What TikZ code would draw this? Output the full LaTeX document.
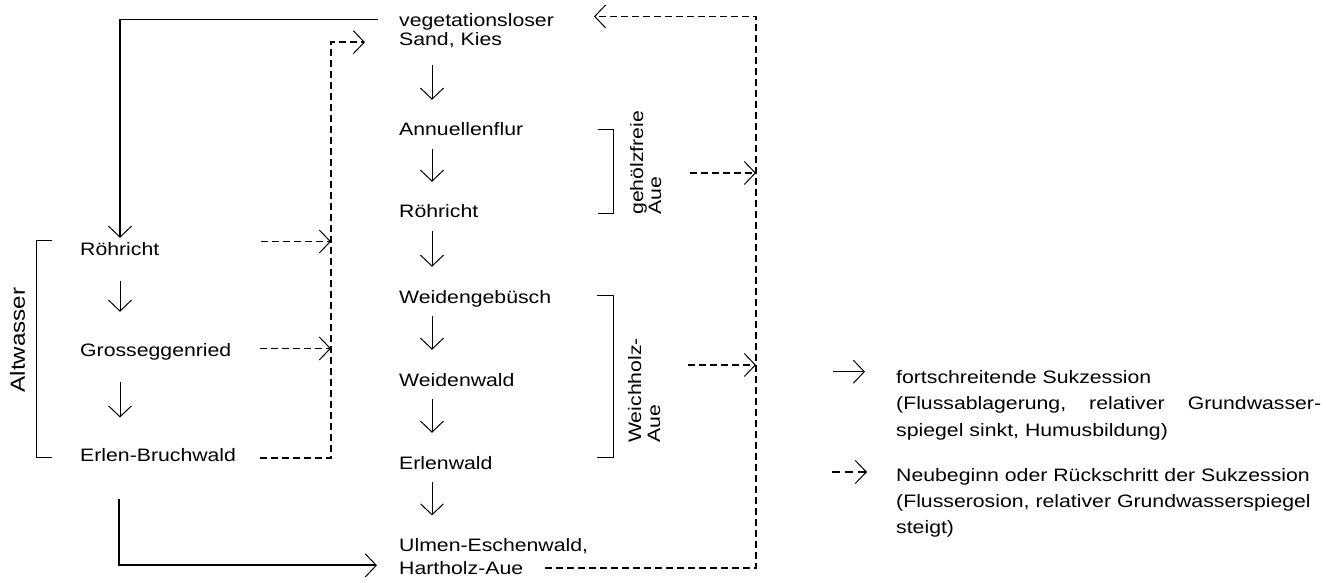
\documentclass[tikz,border=0pt]{standalone}
\usepackage{fontspec}
\setmainfont{Liberation Sans}[FakeStretch=1.18]
\usetikzlibrary{arrows.meta,calc}
\begin{document}
\begin{tikzpicture}[x=1pt,y=-1pt,
  lbl/.style={inner sep=0pt,font=\fontsize{18}{22}\selectfont},
  one/.style={lbl,anchor=base west,text height=13pt,text depth=4pt},
  multi/.style={lbl,anchor=base west,align=left,text width=#1},
  barb/.style={-{Straight Barb[length=11pt,width=23pt,line width=1pt]}},
  succ/.style={line width=1pt,barb},
  flow/.style={line width=1.8pt,barb},
  backarrow/.style={line width=1.8pt,dash pattern=on 7pt off 4pt,barb},
  bracket/.style={line width=1pt},
]
\useasboundingbox (0,0) rectangle (1326,583);
\fill[white] (0,0) rectangle (1326,583);

% middle column
\node[multi=200pt,font=\fontsize{18}{19}\selectfont] (veg) at (399,26.7) {vegetationsloser\\Sand, Kies};
\node[one] (ann) at (399,136) {Annuellenflur};
\node[one] (roeM) at (399,218) {Röhricht};
\node[one] (weg) at (399,303) {Weidengebüsch};
\node[one] (wew) at (399,386) {Weidenwald};
\node[one] (erl) at (399,469) {Erlenwald};
\node[multi=200pt,font=\fontsize{18}{22.3}\selectfont] (ulm) at (399,551.7) {Ulmen-Eschenwald,\\Hartholz-Aue};

% left column
\node[one] (roeL) at (80,255) {Röhricht};
\node[one] (gro) at (80,356) {Grosseggenried};
\node[one] (erlB) at (80,461.7) {Erlen-Bruchwald};

% rotated labels
\node[lbl,rotate=90,anchor=north west,align=left,text width=120pt,font=\fontsize{18}{18}\selectfont] (gz) at (630,215) {gehölzfreie\\Aue};
\node[lbl,rotate=90,anchor=north west,align=left,text width=120pt,font=\fontsize{18}{19}\selectfont] (wh) at (628,443) {Weichholz-\\Aue};
\node[lbl,rotate=90,font=\fontsize{20.5}{24}\selectfont] (alt) at (17.5,340) {Altwasser};

% brackets
\draw[bracket] (52,240) -- (36,240) -- (36,457) -- (52,457);
\draw[bracket] (598,130) -- (613,130) -- (613,213) -- (598,213);
\draw[bracket] (597,295) -- (613,295) -- (613,457) -- (597,457);

% succession arrows (middle)
\foreach \a/\b/\s in {veg/ann/17, ann/roeM/9, roeM/weg/9, weg/wew/9, wew/erl/9, erl/ulm/9}
  \draw[succ] ($(\a.south west)+(33,\s)$) -- ($(\b.north west)+(33,-23)$);
% succession arrows (left)
\draw[succ] ($(roeL.south west)+(40,22)$) -- ($(gro.north west)+(40,-31)$);
\draw[succ] ($(gro.south west)+(40,22)$) -- ($(erlB.north west)+(40,-31)$);

% solid big connectors
\draw[flow] ($(veg.north west)+(-21,6)$) -| ($(roeL.north west)+(40,-4)$);
\draw[flow] ($(erlB.south west)+(39,33)$) |- ($(ulm.south west)+(-22,-9)$);

% dashed connectors, left group
\coordinate (dv) at ($(veg.south west)+(-68,-6)$);
\draw[backarrow] ($(erlB.west)+(180,1)$) -| (dv) -- ($(veg.south west)+(-34,-6)$);
\coordinate (rs) at ($(roeL.west)+(181,-9)$);
\draw[backarrow] (rs) -- (rs -| dv);
\coordinate (gs) at ($(gro.west)+(180,-3)$);
\draw[backarrow] (gs) -- (gs -| dv);

% dashed connectors, right group
\coordinate (rt) at ($(veg.north west)+(357,3)$);
\draw[backarrow] ($(ulm.south west)+(146,-6)$) -| (rt) -- ($(veg.north west)+(195,3)$);
\coordinate (gzs) at (690,173);
\draw[backarrow] (gzs) -- (gzs -| rt);
\coordinate (whs) at (688,365);
\draw[backarrow] (whs) -- (whs -| rt);

% legend
\node[lbl,anchor=base west,align=left,text width=440pt,font=\fontsize{18}{26.5}\selectfont] (leg1) at (896,383.3)
  {fortschreitende Sukzession\\\makebox[425pt][l]{(Flussablagerung,\hfill relativer\hfill Grundwasser-}\\spiegel sinkt, Humusbildung)};
\node[lbl,anchor=base west,align=left,text width=440pt,font=\fontsize{18}{26}\selectfont] (leg2) at (896,481.7)
  {Neubeginn oder Rückschritt der Sukzession\\(Flusserosion, relativer Grundwasserspiegel\\steigt)};
\draw[succ] ($(leg1.base west)+(-63,-11.6)$) -- ($(leg1.base west)+(-31,-11.6)$);
\draw[succ,line width=1.4pt,dash pattern=on 8pt off 5pt] ($(leg2.base west)+(-64,-9.7)$) -- ($(leg2.base west)+(-29,-9.7)$);
\end{tikzpicture}
\end{document}
